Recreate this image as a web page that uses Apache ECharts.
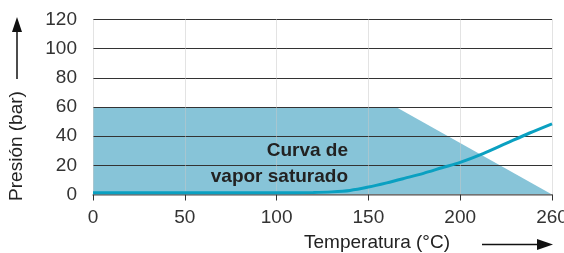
<!DOCTYPE html>
<html>
<head>
<meta charset="utf-8">
<script src="https://cdn.jsdelivr.net/npm/echarts@6/dist/echarts.min.js"></script>
<style>
html, body { margin: 0; padding: 0; background: #fff; }
#main { width: 564px; height: 253px; }
</style>
</head>
<body>
<div id="main"></div>
<script>
// tick labels of the temperature axis (last step is 60 instead of 50)
var tempTicks = [0, 50, 100, 150, 200, 260];
var presTicks = [0, 20, 40, 60, 80, 100, 120];

// saturated vapour curve (°C, bar)
var curveTemp = [0, 100, 120, 130, 140, 150, 160, 170, 180, 190, 200, 215, 230, 245, 260];
var curvePres = [1.2, 1.2, 1.4, 1.8, 2.8, 5.1, 8, 11.2, 14.5, 18.3, 22, 28, 35, 42, 48.5];

// shaded operating area (°C, bar)
var areaTemp = [0, 165, 260];
var areaPres = [60, 60, 0];

var font = 'Liberation Sans, Arial, sans-serif';

// axis is evenly spaced per tick, so map real temperature to axis position
function tempToAxis(t) {
	for (var i = 1; i < tempTicks.length; i++) {
		if (t <= tempTicks[i] || i == tempTicks.length - 1) {
			var a = tempTicks[i - 1], b = tempTicks[i];
			return (i - 1) * 50 + (t - a) / (b - a) * 50;
		}
	}
	return t;
}

function pairs(xs, ys) {
	var out = [];
	for (var i = 0; i < xs.length; i++) {
		out.push([tempToAxis(xs[i]), ys[i]]);
	}
	return out;
}

var chart = echarts.init(document.getElementById('main'));
chart.setOption({
	animation: false,
	grid: { left: 93, right: 12, top: 19.5, bottom: 58.5, containLabel: false, outerBoundsMode: 'none' },
	xAxis: {
		type: 'value',
		min: 0,
		max: (tempTicks.length - 1) * 50,
		interval: 50,
		z: 2,
		axisLine: { show: true, lineStyle: { color: '#888', width: 1.5 } },
		axisTick: { show: true, length: 6, lineStyle: { color: '#333' } },
		axisLabel: {
			margin: 14,
			fontSize: 19,
			fontFamily: font,
			color: '#333',
			formatter: function (v) { return String(tempTicks[Math.round(v / 50)]); }
		},
		splitLine: { show: true, lineStyle: { color: '#c8c8c8', type: 'dotted' } }
	},
	yAxis: {
		type: 'value',
		min: presTicks[0],
		max: presTicks[presTicks.length - 1],
		interval: 20,
		z: 2,
		axisLine: { show: false },
		axisTick: { show: false },
		axisLabel: {
			margin: 16,
			fontSize: 19,
			fontFamily: font,
			color: '#333'
		},
		splitLine: { show: true, lineStyle: { color: '#333', width: 1 } }
	},
	series: [
		{
			type: 'line',
			z: 1,
			data: pairs(areaTemp, areaPres),
			symbol: 'none',
			lineStyle: { width: 0 },
			areaStyle: { color: '#87c4d8', opacity: 1, origin: 'start' }
		},
		{
			type: 'line',
			z: 3,
			data: pairs(curveTemp, curvePres),
			symbol: 'none',
			smooth: 0.3,
			lineStyle: { color: '#0aa0c1', width: 3 }
		}
	],
	graphic: [
		{
			type: 'text', x: 348, y: 151, z: 10,
			style: { text: 'Curva de', align: 'right', verticalAlign: 'middle', font: 'bold 19px ' + font, fill: '#222' }
		},
		{
			type: 'text', x: 348, y: 176.5, z: 10,
			style: { text: 'vapor saturado', align: 'right', verticalAlign: 'middle', font: 'bold 19px ' + font, fill: '#222' }
		},
		{
			type: 'text', x: 377, y: 243, z: 10,
			style: { text: 'Temperatura (°C)', align: 'center', verticalAlign: 'middle', font: '19px ' + font, fill: '#222' }
		},
		{
			type: 'text', x: 17, y: 146, rotation: Math.PI / 2, z: 10,
			style: { text: 'Presión (bar)', align: 'center', verticalAlign: 'middle', font: '19px ' + font, fill: '#222' }
		},
		// arrows next to the axis names
		{ type: 'line', z: 10, shape: { x1: 17, y1: 79, x2: 17, y2: 30 }, style: { stroke: '#111', lineWidth: 1.5 } },
		{ type: 'polygon', z: 10, shape: { points: [[17, 17], [12, 32], [22, 32]] }, style: { fill: '#111' } },
		{ type: 'line', z: 10, shape: { x1: 482, y1: 244.5, x2: 540, y2: 244.5 }, style: { stroke: '#111', lineWidth: 1.5 } },
		{ type: 'polygon', z: 10, shape: { points: [[553, 244.5], [537, 239], [537, 250]] }, style: { fill: '#111' } }
	]
});
</script>
</body>
</html>
